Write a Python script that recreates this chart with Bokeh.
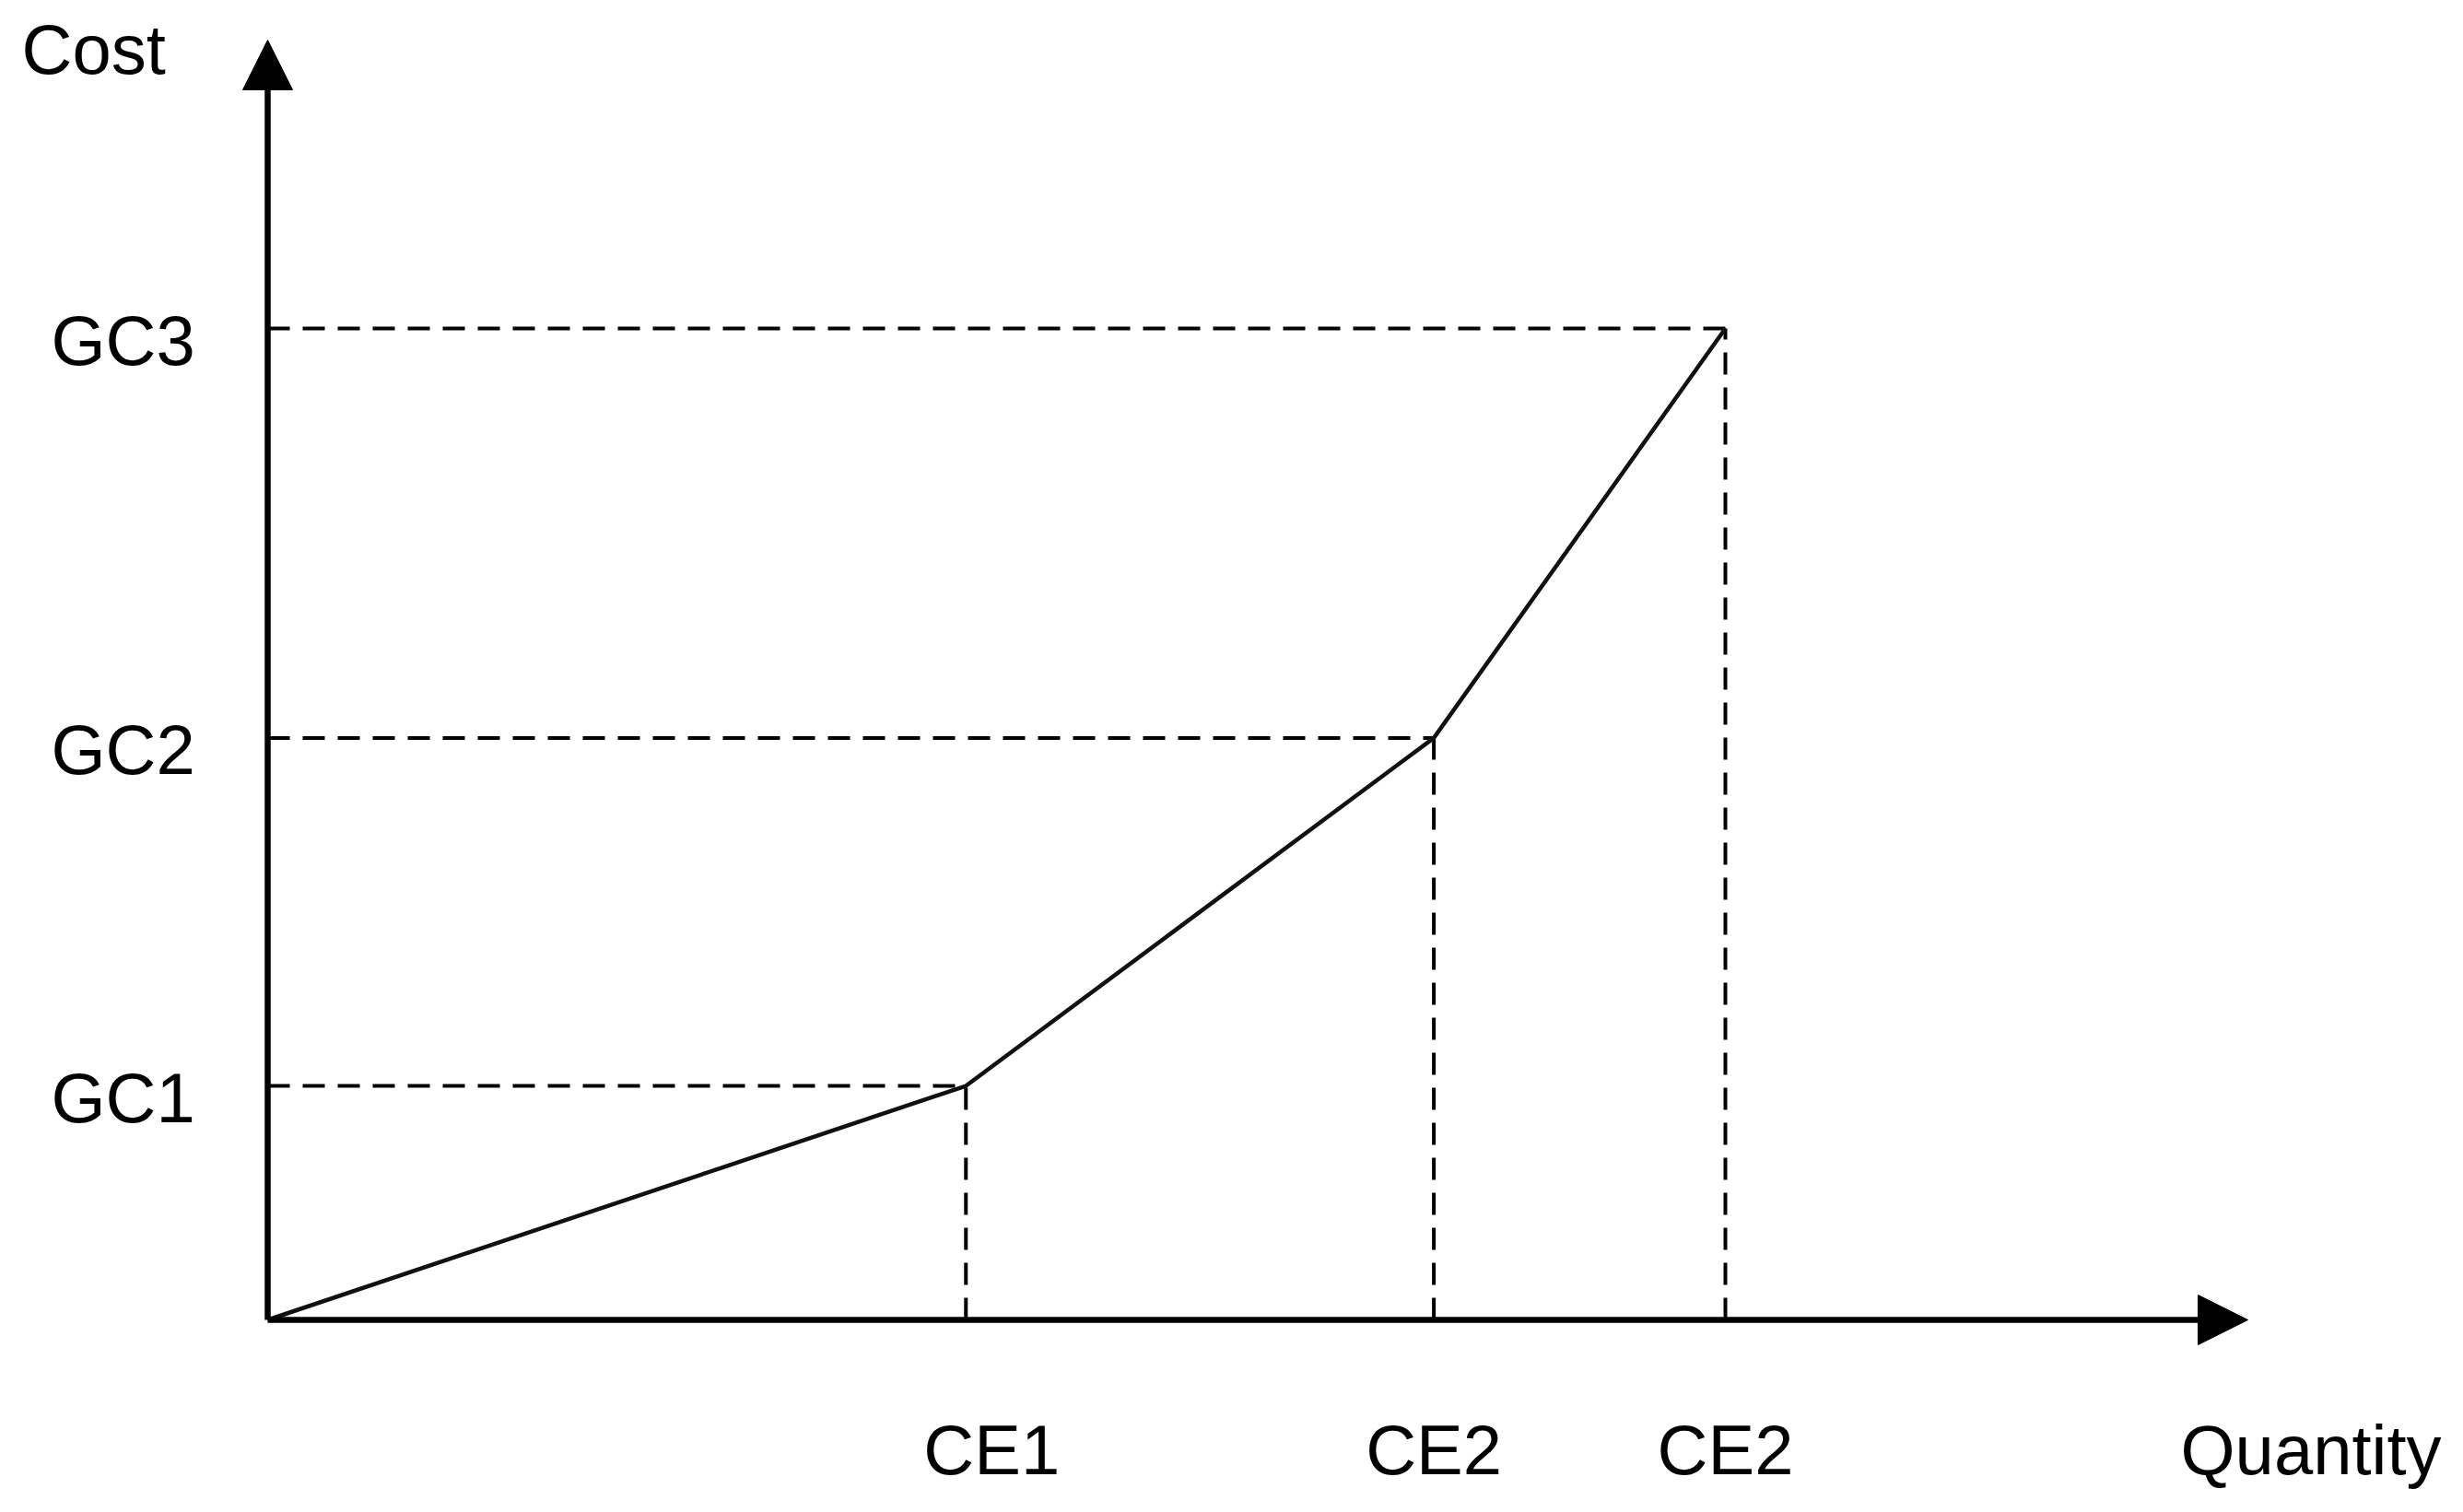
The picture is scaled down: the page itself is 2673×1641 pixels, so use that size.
from bokeh.plotting import figure
from bokeh.models import Range1d, Arrow, NormalHead, ColumnDataSource
from bokeh.core.properties import value
from bokeh.embed import file_html
from bokeh.resources import INLINE

# ---- data (abstract units) ----
quantity = [0, 4.79, 8.0, 10.0]
cost = [0, 2.36, 5.87, 10.0]
x_labels = ["CE1", "CE2", "CE2"]
y_labels = ["GC1", "GC2", "GC3"]
x_title = "Quantity"
y_title = "Cost"

# ---- layout ----
W, H = 2657, 1625
X0_PX, Y0_PX = 290, 1432      # origin position inside the figure (px)
XS, YS = 158.2, 107.6         # px per data unit
X_END = (2439 - X0_PX) / XS   # axis arrow tips
Y_END = (Y0_PX - 43) / YS

FONT = value("Liberation Sans")
FS = "76px"

p = figure(width=W, height=H,
           x_range=Range1d(-X0_PX / XS, (W - X0_PX) / XS),
           y_range=Range1d(-(H - Y0_PX) / YS, Y0_PX / YS),
           x_axis_type=None, y_axis_type=None,
           output_backend="svg", toolbar_location=None,
           min_border=0, outline_line_color=None,
           background_fill_color="white", border_fill_color="white")

# dashed guides
p.segment(x0=[0] * 3, y0=cost[1:], x1=quantity[1:], y1=cost[1:],
          line_color="black", line_width=4, line_dash="24 14")
p.segment(x0=quantity[1:], y0=[0] * 3, x1=quantity[1:], y1=cost[1:],
          line_color="black", line_width=4, line_dash="24 14")

# cost curve
p.line(quantity, cost, line_color="#111111", line_width=4.5)

# axes with arrow heads
for xe, ye in [(X_END, 0), (0, Y_END)]:
    p.add_layout(Arrow(end=NormalHead(size=54, fill_color="black", line_color="black", line_width=1),
                       x_start=0, y_start=0, x_end=xe, y_end=ye,
                       line_width=6.5, line_color="black"))

# y tick labels
ysrc = ColumnDataSource(dict(x=[0] * 3, y=cost[1:], text=y_labels))
p.text(x="x", y="y", text="text", source=ysrc, x_offset=-235, y_offset=13,
       text_align="left", text_baseline="alphabetic",
       text_font=FONT, text_font_size=FS, text_color="black")

# x tick labels
xsrc = ColumnDataSource(dict(x=quantity[1:], y=[0] * 3, text=x_labels, dx=[28, 0, 0]))
p.text(x="x", y="y", text="text", source=xsrc, x_offset="dx", y_offset=141,
       text_align="center", text_baseline="alphabetic",
       text_font=FONT, text_font_size=FS, text_color="black")

# axis titles
p.text(x=[X_END], y=[0], text=[x_title], x_offset=-73, y_offset=141,
       text_align="left", text_baseline="alphabetic",
       text_font=FONT, text_font_size=FS, text_color="black")
p.text(x=[0], y=[Y_END], text=[y_title], x_offset=-267, y_offset=10,
       text_align="left", text_baseline="alphabetic",
       text_font=FONT, text_font_size=FS, text_color="black")

open("out.html", "w").write(file_html(p, INLINE))
